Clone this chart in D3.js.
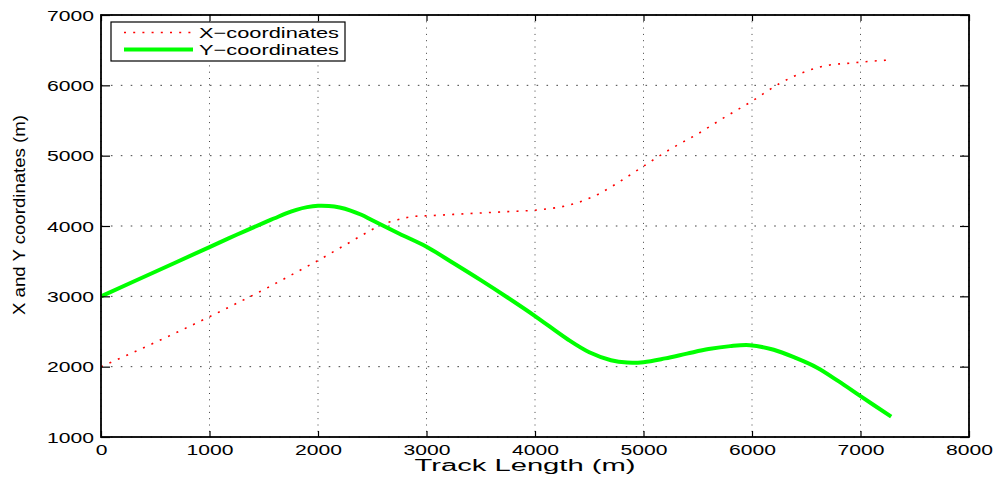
<!DOCTYPE html>
<html>
<head>
<meta charset="utf-8">
<script src="https://cdn.jsdelivr.net/npm/d3@7"></script>
<style>
  html, body { margin: 0; padding: 0; background: #fff; }
  svg { display: block; }
  text { font-family: "Liberation Sans", Arial, Helvetica, sans-serif; fill: #000; }
</style>
</head>
<body>
<svg id="chart" width="995" height="477"></svg>
<script>
// Track samples and the X coordinate along the track
const xSeriesTrack = [0, 250, 500, 750, 1000, 1250, 1500, 1750, 2000, 2250, 2500, 2600, 2700, 2800, 2900, 3000, 3250, 3500, 3750, 4000, 4200, 4300, 4400, 4500, 4600, 4700, 4800, 5000, 5250, 5500, 5750, 6000, 6250, 6500, 6700, 6900, 7100, 7283];
const xSeriesValues = [2000, 2170, 2345, 2525, 2710, 2900, 3095, 3300, 3510, 3730, 3950, 4030, 4072, 4115, 4138, 4145, 4165, 4185, 4205, 4225, 4262, 4292, 4335, 4395, 4465, 4555, 4650, 4850, 5095, 5310, 5548, 5775, 6022, 6200, 6285, 6315, 6343, 6362];

// Track samples and the Y coordinate along the track
const ySeriesTrack = [0, 500, 1000, 1250, 1500, 1600, 1700, 1800, 1900, 2000, 2100, 2200, 2300, 2400, 2500, 2750, 3000, 3250, 3500, 3750, 4000, 4300, 4500, 4700, 4850, 5000, 5200, 5400, 5600, 5800, 5980, 6200, 6400, 6600, 6800, 7000, 7283];
const ySeriesValues = [3000, 3350, 3700, 3875, 4045, 4110, 4175, 4230, 4268, 4287, 4284, 4262, 4220, 4160, 4082, 3890, 3705, 3470, 3230, 2980, 2720, 2390, 2205, 2092, 2058, 2064, 2118, 2185, 2250, 2292, 2305, 2240, 2125, 1985, 1790, 1580, 1290];

const xTicks = [0, 1000, 2000, 3000, 4000, 5000, 6000, 7000, 8000];
const yTicks = [1000, 2000, 3000, 4000, 5000, 6000, 7000];

const seriesNames = ["X\u2212coordinates", "Y\u2212coordinates"];
const xLabel = "Track Length (m)";
const yLabel = "X and Y coordinates (m)";

const svg = d3.select("#chart");
const plot = { left: 101, top: 15, right: 969, bottom: 437 };

const x = d3.scaleLinear().domain([0, 8000]).range([plot.left, plot.right]);
const y = d3.scaleLinear().domain([1000, 7000]).range([plot.bottom, plot.top]);

// Dotted grid
const grid = svg.append("g").attr("class", "grid");
grid.selectAll("line.v").data(xTicks).join("line")
  .attr("x1", d => x(d)).attr("x2", d => x(d))
  .attr("y1", plot.top).attr("y2", plot.bottom)
  .attr("stroke", "#444").attr("stroke-width", 1)
  .attr("stroke-dasharray", "1,5.3");
grid.selectAll("line.h").data(yTicks).join("line")
  .attr("x1", plot.left).attr("x2", plot.right)
  .attr("y1", d => y(d)).attr("y2", d => y(d))
  .attr("stroke", "#444").attr("stroke-width", 1)
  .attr("stroke-dasharray", "1.6,8.3");

// Series
const xPts = xSeriesTrack.map((t, i) => [x(t), y(xSeriesValues[i])]);
const yPts = ySeriesTrack.map((t, i) => [x(t), y(ySeriesValues[i])]);

svg.append("path").attr("d", d3.line().curve(d3.curveMonotoneX)(xPts))
  .attr("fill", "none").attr("stroke", "#ff0000")
  .attr("stroke-width", 1.6).attr("stroke-dasharray", "2,7.2");

svg.append("path").attr("d", d3.line().curve(d3.curveCatmullRom.alpha(0.5))(yPts))
  .attr("fill", "none").attr("stroke", "#00ff00")
  .attr("stroke-width", 4).attr("stroke-linejoin", "round");

// Axes box with inward ticks
const axisG = svg.append("g");
axisG.append("rect")
  .attr("x", plot.left).attr("y", plot.top)
  .attr("width", plot.right - plot.left).attr("height", plot.bottom - plot.top)
  .attr("fill", "none").attr("stroke", "#000").attr("stroke-width", 1.8);

const fmt = d3.format("d");
const bottomAxis = d3.axisBottom(x).tickValues(xTicks).tickFormat(fmt).tickSizeInner(-6).tickSizeOuter(0);
const topAxis = d3.axisTop(x).tickValues(xTicks).tickSizeInner(-6).tickSizeOuter(0).tickFormat("");
const leftAxis = d3.axisLeft(y).tickValues(yTicks).tickFormat(fmt).tickSizeInner(-9).tickSizeOuter(0);
const rightAxis = d3.axisRight(y).tickValues(yTicks).tickSizeInner(-9).tickSizeOuter(0).tickFormat("");

// Tick labels are drawn wide: about 11.75px per digit
function styleAxis(g) {
  g.select(".domain").remove();
  g.selectAll(".tick line").attr("stroke", "#000").attr("stroke-width", 1.2);
  g.selectAll(".tick text")
    .attr("font-size", 14)
    .attr("fill", "#000")
    .each(function () {
      const s = d3.select(this);
      const n = s.text().length;
      if (n > 0) s.attr("textLength", n * 11.75).attr("lengthAdjust", "spacingAndGlyphs");
    });
}

svg.append("g").attr("transform", `translate(0,${plot.bottom})`).call(bottomAxis).call(styleAxis)
  .selectAll(".tick text").attr("dy", null).attr("y", 18);
svg.append("g").attr("transform", `translate(0,${plot.top})`).call(topAxis).call(styleAxis);
svg.append("g").attr("transform", `translate(${plot.left},0)`).call(leftAxis).call(styleAxis)
  .selectAll(".tick text").attr("dy", null).attr("x", -7).attr("y", 5);
svg.append("g").attr("transform", `translate(${plot.right},0)`).call(rightAxis).call(styleAxis);

// Axis titles
svg.append("text")
  .attr("x", 525).attr("y", 471)
  .attr("text-anchor", "middle")
  .attr("font-size", 16)
  .attr("textLength", 221).attr("lengthAdjust", "spacingAndGlyphs")
  .text(xLabel);

svg.append("text")
  .attr("transform", "translate(25,215) rotate(-90)")
  .attr("text-anchor", "middle")
  .attr("font-size", 17)
  .attr("textLength", 200).attr("lengthAdjust", "spacingAndGlyphs")
  .text(yLabel);

// Legend
const legend = svg.append("g");
legend.append("rect")
  .attr("x", 111).attr("y", 22).attr("width", 234).attr("height", 39)
  .attr("fill", "#fff").attr("stroke", "#000").attr("stroke-width", 1.2);

const legendRows = [
  { name: seriesNames[0], color: "#ff0000", width: 1.6, dash: "2,7.2", cy: 32.5, base: 37.5 },
  { name: seriesNames[1], color: "#00ff00", width: 4, dash: null, cy: 49.5, base: 54.8 }
];
legendRows.forEach(r => {
  legend.append("line")
    .attr("x1", 124).attr("x2", 193).attr("y1", r.cy).attr("y2", r.cy)
    .attr("stroke", r.color).attr("stroke-width", r.width)
    .attr("stroke-dasharray", r.dash);
  legend.append("text")
    .attr("x", 199).attr("y", r.base)
    .attr("font-size", 15)
    .attr("textLength", 140).attr("lengthAdjust", "spacingAndGlyphs")
    .text(r.name);
});
</script>
</body>
</html>
